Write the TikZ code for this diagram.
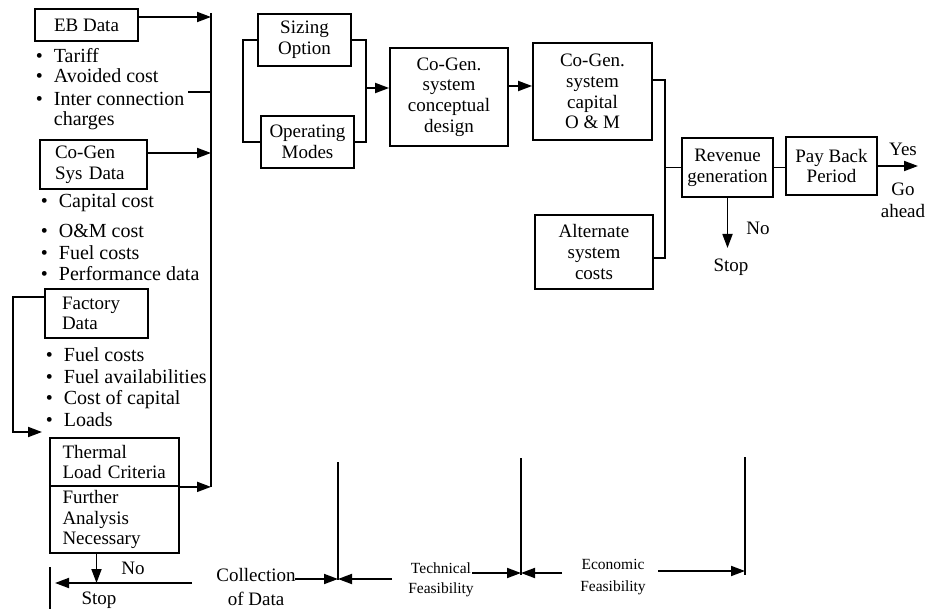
\documentclass[tikz,border=0pt]{standalone}
\usepackage{fontspec}
\setmainfont{Liberation Serif}
\usetikzlibrary{arrows.meta}
\newcommand{\fbig}{\fontsize{19}{20.7}\selectfont}
\newcommand{\fitem}{\fontsize{20}{21}\selectfont}
\newcommand{\fsmall}{\fontsize{15.5}{20}\selectfont}
\begin{document}
\begin{tikzpicture}[x=1pt,y=-1pt,line width=1.8pt,
  arr/.style={-{Triangle[length=14pt,width=10pt]}},
  box/.style={draw,inner sep=0pt,font=\fbig,align=center},
  lbox/.style={box,align=left},
  item/.style={anchor=base west,inner sep=0pt,font=\fitem},
  lbl/.style={inner sep=0pt,font=\fbig,align=center}]
\useasboundingbox (0,0) rectangle (931,609);

% ---------- left column ----------
\node[box,minimum width=103pt,minimum height=32pt] (eb) at (86.5,25) {EB Data};
\node[item] (i1) at (35,63) {\makebox[18pt][l]{•}Tariff};
\node[item] (i2) at (35,83) {\makebox[18pt][l]{•}Avoided cost};
\node[item] (i3) at (35,106) {\makebox[18pt][l]{•}Inter connection};
\node[item] (i4) at (53,126) {charges};

\node[lbox,minimum width=107pt,minimum height=49pt,text width=77pt] (cgs) at (93.5,164.5) {Co-Gen\\Sys Data};
\node[item] (j1) at (40,208) {\makebox[18pt][l]{•}Capital cost};
\node[item] (j2) at (40,238) {\makebox[18pt][l]{•}O\&M cost};
\node[item] (j3) at (40,260) {\makebox[18pt][l]{•}Fuel costs};
\node[item] (j4) at (40,281) {\makebox[18pt][l]{•}Performance data};

\node[lbox,minimum width=103pt,minimum height=49pt,text width=69pt] (fac) at (96.5,313.5) {Factory\\Data};
\node[item] (k1) at (45,361) {\makebox[18pt][l]{•}Fuel costs};
\node[item] (k2) at (45,383) {\makebox[18pt][l]{•}Fuel availabilities};
\node[item] (k3) at (45,404) {\makebox[18pt][l]{•}Cost of capital};
\node[item] (k4) at (45,426) {\makebox[18pt][l]{•}Loads};

\node[lbox,minimum width=129pt,minimum height=48pt,text width=104pt] (thm) at (114.5,462) {Thermal\\Load Criteria};
\node[lbox,minimum width=129pt,minimum height=67pt,text width=104pt] (fur) at (114.5,519.5) {Further\\Analysis\\Necessary};

% bus line
\coordinate (busT) at (211,13);
\draw (busT) -- (thm.south east -| busT);
\draw[arr] ([yshift=8pt]eb.east) -- ([yshift=8pt]eb.east -| busT);
\draw[arr] ([yshift=11.5pt]cgs.east) -- ([yshift=11.5pt]cgs.east -| busT);
\draw[arr] (thm.south east) -- (thm.south east -| busT);
\coordinate (tick) at (188,92);
\draw (tick) -- (tick -| busT);

% factory bracket
\coordinate (fl) at (13,0);
\coordinate (ldarr) at (42,432);
\draw[arr] ([yshift=16.5pt]fac.west) -- ([yshift=16.5pt]fac.west -| fl) -- (ldarr -| fl) -- (ldarr);

% bottom left
\coordinate (hS) at (192,583);
\coordinate (hE) at (55,583);
\draw[arr] (hS) -- (hE);
\draw[arr] ([xshift=-18pt]fur.south) -- ([xshift=-18pt]fur.south |- hS);
\node[lbl,anchor=base] (no1) at (133,574) {No};
\node[lbl,anchor=base] (stop1) at (99,604) {Stop};
\coordinate (v0T) at (50,567);
\coordinate (v0B) at (50,609);
\draw (v0T) -- (v0B);

% phase labels and separators
\node[lbl,font=\fontsize{19}{24}\selectfont] (coll) at (256,587) {Collection\\of Data};
\node[lbl,font=\fsmall] (tech) at (441,579.5) {Technical\\Feasibility};
\node[lbl,font=\fontsize{15.5}{22}\selectfont] (econ) at (613,577.5) {Economic\\Feasibility};

\coordinate (v1T) at (338,462); \coordinate (v1B) at (338,580);
\coordinate (v2T) at (521,458); \coordinate (v2B) at (521,575);
\coordinate (v3T) at (745,457); \coordinate (v3B) at (745,575);
\draw (v1T) -- (v1B);
\draw (v2T) -- (v2B);
\draw (v3T) -- (v3B);
\coordinate (a1) at (295,579); \coordinate (a2) at (392,579);
\coordinate (a3) at (472,573); \coordinate (a4) at (562,573);
\coordinate (a5) at (658,571);
\draw[arr] (a1) -- (a1 -| v1T);
\draw[arr] (a2) -- (a2 -| v1T);
\draw[arr] (a3) -- (a3 -| v2T);
\draw[arr] (a4) -- (a4 -| v2T);
\draw[arr] (a5) -- (a5 -| v3T);

% ---------- centre ----------
\node[box,minimum width=93pt,minimum height=52pt] (siz) at (304.5,40) {Sizing\\Option};
\node[box,minimum width=93pt,minimum height=52pt] (ope) at (307.5,142) {Operating\\Modes};
\coordinate (lb) at (243,0);
\coordinate (rb) at (366,0);
\draw (siz.west) -- (siz.west -| lb) -- (ope.west -| lb) -- (ope.west);
\draw (siz.east) -- (siz.east -| rb) -- (ope.east -| rb) -- (ope.east);
\node[box,minimum width=118pt,minimum height=98pt] (des) at (449,97) {Co-Gen.\\system\\conceptual\\design};
\draw[arr] ([yshift=9pt]des.west -| rb) -- ([yshift=9pt]des.west);
\node[box,minimum width=119pt,minimum height=97pt] (cap) at (592.5,91.5) {Co-Gen.\\system\\capital\\O \& M};
\draw[arr] ([yshift=11pt]des.east) -- ([yshift=11pt]des.east -| cap.west);
\node[box,minimum width=118pt,minimum height=74pt] (alt) at (594,252) {Alternate\\system\\costs};
\coordinate (jx) at (665,0);
\draw ([yshift=11.5pt]cap.east) -- ([yshift=11.5pt]cap.east -| jx) -- ([yshift=-6pt]alt.east -| jx) -- ([yshift=-6pt]alt.east);

% ---------- right ----------
\node[box,minimum width=91pt,minimum height=59pt] (rev) at (727.5,167.5) {Revenue\\generation};
\draw (rev.west -| jx) -- (rev.west);
\node[box,minimum width=91pt,minimum height=58pt] (pay) at (831.5,166) {Pay Back\\Period};
\draw (rev.east) -- (rev.east -| pay.west);
\coordinate (yesE) at (918,165);
\draw[arr] (pay.east) -- (pay.east -| yesE);
\node[lbl,anchor=base] (yes) at (903,156) {Yes};
\node[lbl,font=\fontsize{19}{22}\selectfont] (go) at (903,200) {Go\\ahead};
\coordinate (revS) at (728,248);
\draw[arr] (rev.south) -- (rev.south |- revS);
\node[lbl,anchor=base] (no2) at (758,235) {No};
\node[lbl,anchor=base] (stop2) at (731,272) {Stop};
\end{tikzpicture}
\end{document}
